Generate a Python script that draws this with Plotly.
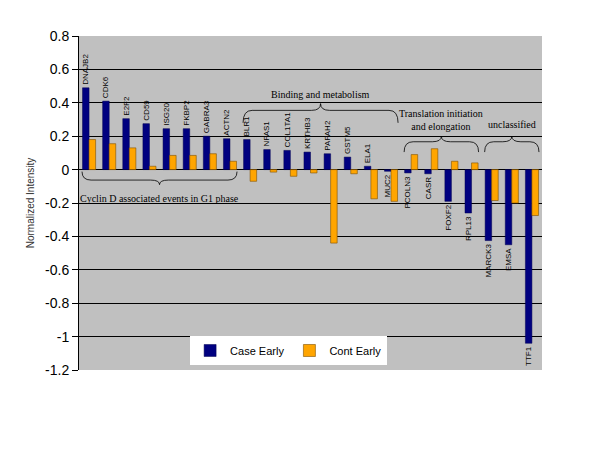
import plotly.graph_objects as go

genes = ["DNAJB2", "CDK6", "E2F2", "CD59", "ISG20", "FKBP2", "GABRA3", "ACTN2",
         "BLR1", "NFAS1", "COL1TA1", "KRTHB3", "PAFAH2", "GSTM5", "ELA1", "MUC2",
         "PCOLN3", "CASR", "FOXF2", "RPL13", "MARCK3", "EMSA", "TTF1"]
case_early = [0.49, 0.41, 0.305, 0.275, 0.245, 0.245, 0.20, 0.185,
              0.18, 0.12, 0.115, 0.105, 0.095, 0.075, 0.02, -0.01,
              -0.02, -0.025, -0.19, -0.26, -0.425, -0.45, -1.04]
cont_early = [0.18, 0.155, 0.13, 0.02, 0.085, 0.085, 0.095, 0.05,
              -0.07, -0.015, -0.04, -0.02, -0.44, -0.025, -0.175, -0.19,
              0.09, 0.125, 0.05, 0.04, -0.185, -0.20, -0.275]
y_ticks = [0.8, 0.6, 0.4, 0.2, 0, -0.2, -0.4, -0.6, -0.8, -1, -1.2]
y_tick_text = ["0.8", "0.6", "0.4", "0.2", "0", "-0.2", "-0.4", "-0.6", "-0.8", "-1", "-1.2"]

# groups: (label lines, first index, last index, side)
groups = [
    (["Cyclin D associated events in G1 phase"], 0, 7, "below"),
    (["Binding and metabolism"], 8, 15, "above"),
    (["Translation initiation", "and elongation"], 16, 19, "above"),
    (["unclassified"], 20, 22, "above"),
]

fig = go.Figure()
fig.add_trace(go.Bar(
    x=genes, y=case_early, name="Case Early",
    marker=dict(color="#000080", line=dict(color="#000050", width=0.5)),
    text=genes, textposition="outside", textangle=-90,
    textfont=dict(family="Arial, Liberation Sans", size=8, color="black"),
    constraintext="none", cliponaxis=False,
))
fig.add_trace(go.Bar(
    x=genes, y=cont_early, name="Cont Early",
    marker=dict(color="#FFA500", line=dict(color="#805000", width=0.6)),
))


def brace(x0, x1, yt, yp, d=0.45):
    xm = (x0 + x1) / 2
    ym = yt + 0.65 * (yp - yt)
    return (f"M {x0},{yt} Q {x0},{ym} {x0 + d},{ym} L {xm - d},{ym} "
            f"Q {xm},{ym} {xm},{yp} Q {xm},{ym} {xm + d},{ym} "
            f"L {x1 - d},{ym} Q {x1},{ym} {x1},{yt}")


shapes = []
annotations = []
for lines, i0, i1, side in groups:
    x0, x1 = i0 - 0.35, i1 + 0.35
    xm = (x0 + x1) / 2
    if side == "below":
        yt, yp = -0.012, -0.09
        ty, ya = -0.13, "top"
    elif len(lines) > 1:
        yt, yp = 0.105, 0.2
        ty, ya = 0.215, "bottom"
    else:
        if i0 == 8:
            yt, yp = 0.28, 0.395
            ty, ya = 0.405, "bottom"
        else:
            yt, yp = 0.105, 0.2
            ty, ya = 0.225, "bottom"
    shapes.append(dict(type="path", xref="x", yref="y", path=brace(x0, x1, yt, yp),
                       line=dict(color="black", width=0.8)))
    annotations.append(dict(x=xm, y=ty, xref="x", yref="y", text="<br>".join(lines),
                            showarrow=False, yanchor=ya, xanchor="center",
                            font=dict(family="Liberation Serif, Times New Roman", size=10, color="black")))

# page body has an 8px default margin, so margins are reduced accordingly
fig.update_layout(
    width=600, height=450,
    margin=dict(l=71, r=66, t=28, b=88, autoexpand=False),
    paper_bgcolor="white", plot_bgcolor="#C0C0C0",
    barmode="group", bargap=0.35, bargroupgap=0.0,
    shapes=shapes, annotations=annotations,
    legend=dict(orientation="h", x=0.24, y=0.015, xanchor="left", yanchor="bottom",
                bgcolor="white", font=dict(family="Arial, Liberation Sans", size=11, color="black"),
                itemwidth=30, tracegroupgap=0),
    showlegend=True,
)
fig.update_xaxes(showticklabels=False, showgrid=False, ticks="", showline=False,
                 zeroline=False, range=[-0.5, 22.5], automargin=False)
fig.update_yaxes(range=[-1.2, 0.8], tickvals=y_ticks, ticktext=y_tick_text,
                 showgrid=True, gridcolor="black", gridwidth=0.8,
                 zeroline=True, zerolinecolor="black", zerolinewidth=1,
                 showline=True, linecolor="black", linewidth=1,
                 ticks="outside", ticklen=6, tickcolor="black", automargin=False,
                 tickfont=dict(family="Arial, Liberation Sans", size=14, color="black"),
                 title=dict(text="Normalized Intensity", standoff=8,
                            font=dict(family="Arial, Liberation Sans", size=10, color="#333")))

fig.write_html("out.html")
